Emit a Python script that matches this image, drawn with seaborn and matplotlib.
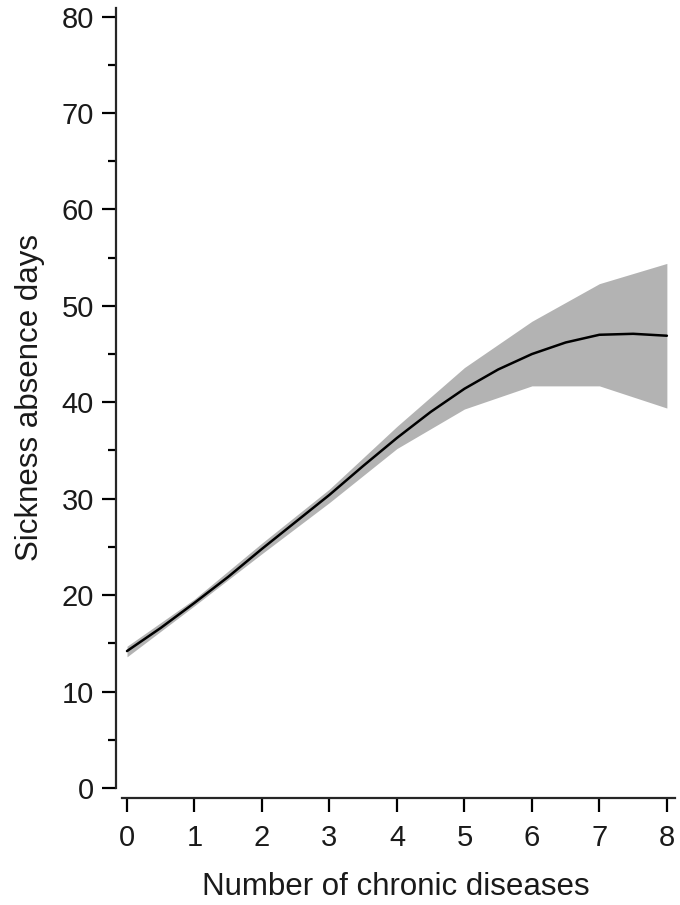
import numpy as np
import pandas as pd
import matplotlib
matplotlib.use('Agg')
import matplotlib.pyplot as plt
import seaborn as sns
from matplotlib.ticker import MultipleLocator

# fitted curve, read at half steps
x_fit = [0, 0.5, 1, 1.5, 2, 2.5, 3, 3.5, 4, 4.5, 5, 5.5, 6, 6.5, 7, 7.5, 8]
y_fit = [14.2, 16.6, 19.2, 21.9, 24.8, 27.6, 30.4, 33.4, 36.3, 39.0, 41.4, 43.4, 45.0, 46.2, 47.0, 47.1, 46.9]

# confidence band at each number of diseases
x_ci = [0, 1, 2, 3, 4, 5, 6, 7, 8]
ci_low = [13.6, 18.9, 24.3, 29.6, 35.2, 39.3, 41.7, 41.7, 39.4]
ci_high = [14.7, 19.6, 25.4, 31.0, 37.5, 43.6, 48.4, 52.3, 54.4]

sns.set_style('ticks')
plt.rcParams['font.family'] = ['Liberation Sans', 'DejaVu Sans']

fig = plt.figure(figsize=(6.8, 9.05), dpi=100)
ax = fig.add_axes([0.1706, 0.1293, 0.822, 0.862])

ax.fill_between(x_ci, ci_low, ci_high, color='#b3b3b3', linewidth=0)
df = pd.DataFrame({'x': x_fit, 'y': y_fit})
sns.lineplot(data=df, x='x', y='y', color='black', linewidth=1.8, ax=ax)

ax.set_xlim(-0.163, 8.12)
ax.set_ylim(0, 80.9)
ax.set_xticks(range(0, 9))
ax.yaxis.set_major_locator(MultipleLocator(10))
ax.yaxis.set_minor_locator(MultipleLocator(5))

for s in ['top', 'right']:
    ax.spines[s].set_visible(False)
ax.spines['left'].set_linewidth(1.6)
ax.spines['bottom'].set_linewidth(1.6)
ax.spines['bottom'].set_position(('outward', 7))
ax.spines['bottom'].set_bounds(-0.07, 8.12)

ax.tick_params(axis='both', which='major', length=10, width=1.6, labelsize=21, color='black', labelcolor='#1a1a1a')
ax.tick_params(axis='y', which='minor', length=6, width=1.6, color='black')
ax.tick_params(axis='x', pad=9)
ax.tick_params(axis='y', pad=6)

ax.set_xlabel('Number of chronic diseases', fontsize=22.5, labelpad=14, color='#1a1a1a')
ax.set_ylabel('Sickness absence days', fontsize=22.5, labelpad=12, color='#1a1a1a')

fig.savefig('out.png', dpi=100)
